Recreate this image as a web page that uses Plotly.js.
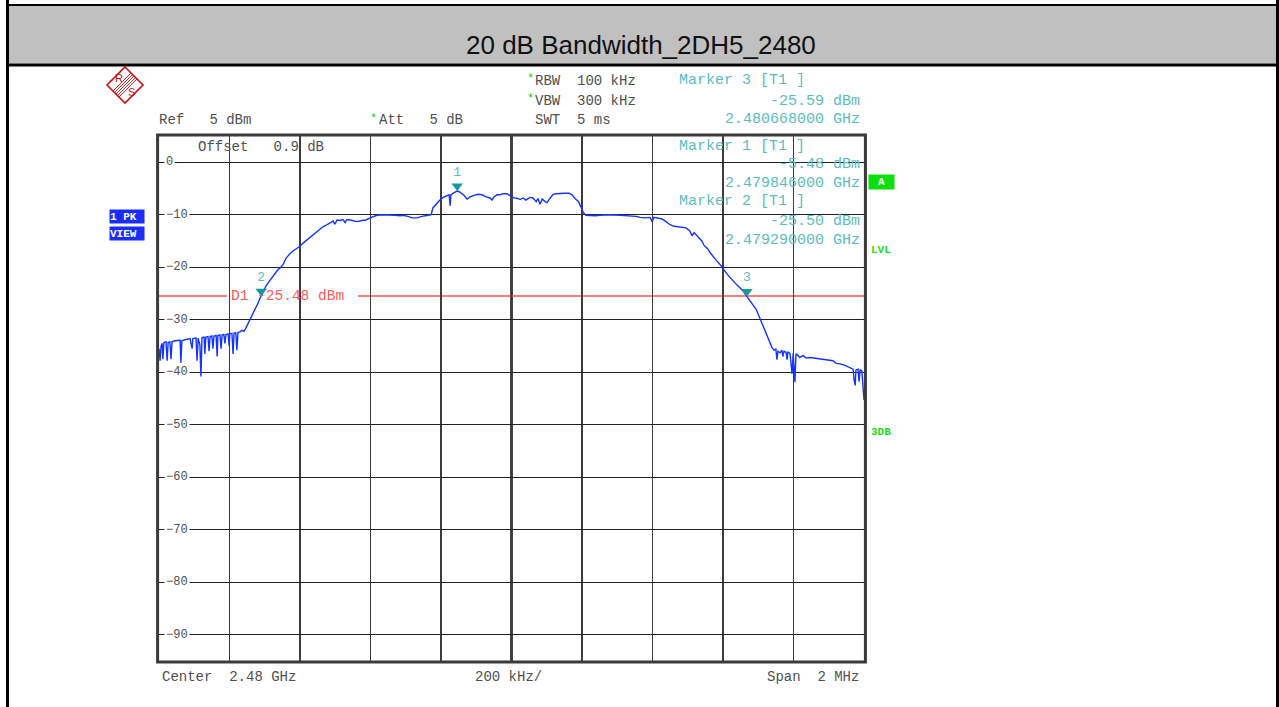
<!DOCTYPE html>
<html>
<head>
<meta charset="utf-8">
<script src="https://cdn.plot.ly/plotly-3.0.1.min.js"></script>
<style>html,body{margin:0;padding:0;background:#fff;}#chart{width:1279px;height:707px;}</style>
</head>
<body>
<div id="chart"></div>
<script>
// ---------- data ----------
const chartTitle = "20 dB Bandwidth_2DH5_2480";
const freqMHz = [
 2479.000,2479.003,2479.006,2479.009,2479.011,2479.014,2479.020,2479.023,2479.026,2479.031,
 2479.034,2479.037,2479.045,2479.054,2479.060,2479.062,2479.065,2479.074,2479.082,2479.088,
 2479.094,2479.096,2479.105,2479.108,2479.111,2479.116,2479.119,2479.122,2479.128,2479.130,
 2479.133,2479.139,2479.142,2479.145,2479.150,2479.153,2479.156,2479.162,2479.165,2479.167,
 2479.173,2479.176,2479.179,2479.184,2479.187,2479.190,2479.196,2479.199,2479.201,2479.207,
 2479.210,2479.213,2479.218,2479.221,2479.224,2479.230,2479.235,2479.241,2479.247,2479.252,
 2479.258,2479.264,2479.270,2479.275,2479.281,2479.287,2479.289,2479.295,2479.301,2479.306,
 2479.315,2479.323,2479.332,2479.338,2479.343,2479.352,2479.360,2479.366,2479.372,2479.380,
 2479.389,2479.400,2479.409,2479.420,2479.428,2479.437,2479.448,2479.457,2479.465,2479.474,
 2479.485,2479.494,2479.499,2479.505,2479.513,2479.522,2479.528,2479.533,2479.542,2479.553,
 2479.562,2479.576,2479.587,2479.599,2479.610,2479.618,2479.633,2479.644,2479.655,2479.670,
 2479.684,2479.692,2479.706,2479.718,2479.732,2479.746,2479.763,2479.772,2479.777,2479.786,
 2479.797,2479.806,2479.817,2479.823,2479.826,2479.828,2479.837,2479.846,2479.854,2479.865,
 2479.874,2479.882,2479.894,2479.905,2479.916,2479.928,2479.939,2479.945,2479.950,2479.959,
 2479.967,2479.976,2479.987,2479.996,2480.007,2480.018,2480.024,2480.033,2480.041,2480.052,
 2480.061,2480.070,2480.075,2480.081,2480.087,2480.095,2480.101,2480.109,2480.118,2480.126,
 2480.138,2480.152,2480.163,2480.172,2480.180,2480.189,2480.197,2480.203,2480.211,2480.223,
 2480.237,2480.251,2480.279,2480.308,2480.336,2480.353,2480.365,2480.379,2480.393,2480.399,
 2480.404,2480.416,2480.427,2480.438,2480.450,2480.461,2480.478,2480.495,2480.506,2480.512,
 2480.518,2480.529,2480.535,2480.540,2480.546,2480.552,2480.557,2480.563,2480.572,2480.580,
 2480.592,2480.597,2480.606,2480.614,2480.623,2480.631,2480.640,2480.648,2480.657,2480.668,
 2480.677,2480.685,2480.694,2480.699,2480.705,2480.711,2480.719,2480.728,2480.733,2480.739,
 2480.745,2480.750,2480.753,2480.756,2480.762,2480.767,2480.770,2480.773,2480.779,2480.782,
 2480.784,2480.790,2480.796,2480.799,2480.804,2480.807,2480.813,2480.818,2480.827,2480.836,
 2480.847,2480.858,2480.870,2480.881,2480.892,2480.904,2480.912,2480.921,2480.932,2480.946,
 2480.960,2480.969,2480.972,2480.975,2480.977,2480.983,2480.986,2480.989,2480.994,2480.997,
 2481.000
];
const levelDbm = [
 -35.5,-37.8,-35.0,-34.5,-37.5,-34.3,-34.2,-37.8,-34.3,-34.2,
 -37.5,-34.2,-34.0,-33.9,-33.9,-38.2,-34.0,-33.8,-33.7,-33.6,
 -35.5,-33.6,-33.5,-37.8,-33.5,-34.8,-40.8,-33.4,-33.3,-36.5,
 -33.3,-33.2,-36.0,-33.2,-33.1,-35.5,-33.1,-33.0,-37.0,-33.0,
 -32.9,-35.5,-32.9,-32.8,-34.5,-32.8,-32.7,-35.0,-32.6,-32.6,
 -36.5,-32.5,-32.5,-35.8,-32.4,-32.3,-32.0,-32.2,-31.5,-30.8,
 -30.0,-29.2,-28.6,-27.8,-26.8,-25.8,-25.5,-24.6,-23.9,-23.3,
 -22.5,-21.8,-21.0,-20.4,-20.2,-19.5,-18.3,-17.8,-17.4,-16.9,
 -16.5,-16.0,-15.4,-14.8,-14.4,-13.9,-13.4,-12.9,-12.3,-12.0,
 -11.5,-11.2,-11.8,-11.0,-11.1,-10.9,-11.5,-10.9,-11.0,-11.2,
 -11.3,-11.1,-11.0,-10.6,-10.3,-10.1,-10.0,-10.0,-10.0,-10.1,
 -10.2,-10.1,-10.3,-10.6,-10.6,-10.3,-10.1,-10.0,-8.7,-8.0,
 -7.2,-6.7,-6.3,-6.2,-8.3,-6.2,-5.8,-5.5,-5.7,-6.3,
 -7.0,-6.6,-6.3,-6.1,-6.2,-6.6,-6.8,-7.2,-6.6,-6.2,
 -6.2,-6.0,-6.0,-6.4,-6.8,-6.9,-7.1,-6.8,-7.2,-6.7,
 -6.8,-7.5,-6.9,-8.0,-7.0,-7.5,-7.7,-6.9,-6.1,-6.0,
 -5.9,-5.9,-5.9,-6.2,-6.9,-7.4,-8.5,-9.5,-10.1,-10.2,
 -10.2,-10.1,-10.0,-10.1,-10.2,-10.3,-10.5,-10.6,-10.5,-11.3,
 -10.5,-10.6,-10.8,-11.3,-11.9,-12.2,-12.3,-12.5,-13.1,-14.0,
 -13.4,-14.2,-14.8,-15.0,-15.8,-16.2,-16.5,-17.2,-18.0,-18.6,
 -19.5,-19.9,-20.8,-21.5,-22.2,-22.9,-23.4,-23.9,-24.5,-25.6,
 -26.5,-27.3,-28.0,-28.8,-29.8,-30.7,-31.9,-33.3,-34.3,-35.3,
 -35.8,-35.6,-37.6,-36.0,-36.3,-35.8,-37.0,-36.0,-36.2,-37.6,
 -36.1,-36.4,-40.3,-36.4,-41.9,-36.5,-36.8,-37.2,-36.8,-37.3,
 -37.2,-37.3,-37.5,-37.6,-37.7,-37.8,-37.8,-38.3,-38.4,-38.7,
 -39.1,-39.4,-41.5,-42.5,-39.6,-39.4,-41.8,-39.5,-39.8,-43.0,
 -45.3
];
const markerNames = ["1", "2", "3"];
const markerFreqMHz = [2479.846, 2479.290, 2480.668];
const markerLevel = [-5.48, -25.50, -25.59];
const displayLineDbm = -25.48;
const yTickVals = [0, -10, -20, -30, -40, -50, -60, -70, -80, -90];
const yTickText = ["0", "\u221210", "\u221220", "\u221230", "\u221240", "\u221250", "\u221260", "\u221270", "\u221280", "\u221290"];
const xRangeMHz = [2479, 2481];
const yRangeDbm = [-95, 5];

// ---------- layout helpers ----------
const W = 1279, H = 707, L = 159, R = 864, T = 136, B = 661;
const PX = x => (x - L) / (R - L);
const PY = y => (B - y) / (B - T);
const MONO = "Liberation Mono, Courier New, monospace";
const GRAY = "#505050";
const TEAL = "#5bbdbd";
const NB = s => s.replace(/ /g, "\u00a0");

function txt(x, y, text, o) {
  o = o || {};
  const a = {
    xref: "paper", yref: "paper", x: PX(x), y: PY(y), text: NB(text),
    showarrow: false, xanchor: o.xa || "left", yanchor: "middle",
    font: { family: o.family || MONO, size: o.size || 14, color: o.color || GRAY, weight: o.weight || "normal" },
    borderpad: o.pad || 0
  };
  if (o.bg) a.bgcolor = o.bg;
  if (o.w) { a.width = o.w; a.align = o.align || "left"; }
  if (o.h) a.height = o.h;
  return a;
}
function pline(x0, y0, x1, y1, color, width) {
  return { type: "line", xref: "paper", yref: "paper", x0: PX(x0), y0: PY(y0), x1: PX(x1), y1: PY(y1),
           line: { color: color, width: width }, layer: "above" };
}
function ppath(pts, color, width) {
  const d = pts.map((p, i) => (i ? "L" : "M") + PX(p[0]) + "," + PY(p[1])).join(" ") + " Z";
  return { type: "path", xref: "paper", yref: "paper", path: d, line: { color: color, width: width }, layer: "above" };
}

// ---------- traces ----------
const traces = [
  { x: freqMHz, y: levelDbm, type: "scatter", mode: "lines",
    line: { color: "#1434ff", width: 1.4 }, hoverinfo: "skip", showlegend: false },
  { x: markerFreqMHz, y: markerLevel.map(v => v + 0.95), type: "scatter", mode: "markers+text",
    text: markerNames, textposition: "top center", cliponaxis: false,
    marker: { symbol: "triangle-down", size: 10, color: "#149a9a" },
    textfont: { family: MONO, size: 13, color: TEAL }, hoverinfo: "skip", showlegend: false }
];

// ---------- annotations ----------
const anns = [];
anns.push({ xref: "paper", yref: "paper", x: PX(641), y: PY(45), text: chartTitle, showarrow: false,
            xanchor: "center", yanchor: "middle", font: { family: "Liberation Sans, Arial, sans-serif", size: 26, color: "#111" } });
// settings block
anns.push(txt(526, 79, "*", { color: "#22cc22", size: 12 }));
anns.push(txt(534, 81, "RBW  100 kHz"));
anns.push(txt(526, 99, "*", { color: "#22cc22", size: 12 }));
anns.push(txt(534, 101, "VBW  300 kHz"));
anns.push(txt(534, 120, "SWT  5 ms"));
anns.push(txt(158, 120, "Ref   5 dBm"));
anns.push(txt(369, 119, "*", { color: "#22cc22", size: 12 }));
anns.push(txt(378, 120, "Att   5 dB"));
anns.push(txt(197, 147, "Offset   0.9 dB"));
// marker info
const MK = { color: TEAL, size: 15 };
const MKR = { color: TEAL, size: 15, xa: "right" };
anns.push(txt(678, 81, "Marker 3 [T1 ]", MK));
anns.push(txt(861, 101, "-25.59 dBm", MKR));
anns.push(txt(861, 120, "2.480668000 GHz", MKR));
anns.push(txt(678, 146, "Marker 1 [T1 ]", MK));
anns.push(txt(861, 164, "-5.48 dBm", MKR));
anns.push(txt(861, 183, "2.479846000 GHz", MKR));
anns.push(txt(678, 202, "Marker 2 [T1 ]", MK));
anns.push(txt(861, 221, "-25.50 dBm", MKR));
anns.push(txt(861, 240, "2.479290000 GHz", MKR));
// display line label (line is broken around it)
anns.push({ xref: "paper", yref: "y", x: PX(230), y: displayLineDbm, text: NB("D1 -25.48 dBm"), showarrow: false,
            xanchor: "left", yanchor: "middle", borderpad: 0,
            font: { family: MONO, size: 14.5, color: "#ff5a5a" } });
// y tick labels inside the plot
yTickVals.forEach((v, i) => {
  anns.push({ xref: "paper", yref: "y", x: PX(164), y: v, text: yTickText[i], showarrow: false,
              xanchor: "left", yanchor: "middle", bgcolor: "#ffffff", borderpad: 1,
              font: { family: MONO, size: 12, color: GRAY } });
});
// bottom texts
anns.push(txt(161, 677, "Center  2.48 GHz"));
anns.push(txt(474, 677, "200 kHz/"));
anns.push(txt(860, 677, "Span  2 MHz", { xa: "right" }));
// side indicators
anns.push(txt(109, 216, "1 PK", { bg: "#1a2cff", color: "#ffffff", size: 11, weight: "bold", w: 34, h: 13 }));
anns.push(txt(109, 233, "VIEW", { bg: "#1a2cff", color: "#ffffff", size: 11, weight: "bold", w: 34, h: 13 }));
anns.push(txt(868, 182, "A", { bg: "#0ce00c", color: "#ffffff", size: 11, weight: "bold", w: 25, h: 14, align: "center" }));
anns.push(txt(870, 250, "LVL", { color: "#22dd22", size: 11, weight: "bold" }));
anns.push(txt(870, 432, "3DB", { color: "#22dd22", size: 11, weight: "bold" }));
// logo letters
anns.push(txt(119, 78, "R", { family: "Liberation Sans, Arial, sans-serif", size: 11, color: "#cc1010", xa: "center" }));
anns.push(txt(131, 92, "S", { family: "Liberation Sans, Arial, sans-serif", size: 11, color: "#cc1010", xa: "center" }));

// ---------- shapes ----------
const shapes = [];
shapes.push({ type: "rect", xref: "paper", yref: "paper", x0: PX(9), x1: PX(1276), y0: PY(63.5), y1: PY(6),
              fillcolor: "#c0c0c0", line: { width: 0 }, layer: "below" });
shapes.push(pline(6, 5, 1279, 5, "#000", 2));
shapes.push(pline(6, 65, 1279, 65, "#000", 3));
shapes.push(pline(7.5, 0, 7.5, 707, "#000", 3));
shapes.push(pline(1277.5, 0, 1277.5, 707, "#000", 3));
// plot frame
shapes.push({ type: "rect", xref: "paper", yref: "paper", x0: -0.002, x1: 1.002, y0: -0.002, y1: 1.002,
              line: { color: "#3a3a3a", width: 3 }, layer: "above" });
// centre line
shapes.push({ type: "line", xref: "x", yref: "paper", x0: 2480, x1: 2480, y0: 0, y1: 1,
              line: { color: "#444", width: 3 }, layer: "below" });
// display line D1, broken around its label
shapes.push({ type: "line", xref: "paper", yref: "y", x0: 0, x1: PX(227), y0: displayLineDbm, y1: displayLineDbm,
              line: { color: "#ff5050", width: 1.5 }, layer: "below" });
shapes.push({ type: "line", xref: "paper", yref: "y", x0: PX(358), x1: 1, y0: displayLineDbm, y1: displayLineDbm,
              line: { color: "#ff5050", width: 1.5 }, layer: "below" });
shapes.push({ type: "rect", xref: "paper", yref: "y", x0: PX(227), x1: PX(358), y0: displayLineDbm - 0.6, y1: displayLineDbm + 0.6,
              fillcolor: "#ffffff", line: { width: 0 }, layer: "below" });
// R&S logo
shapes.push(ppath([[125, 67], [143, 85], [125, 103], [107, 85]], "#cc1010", 1.6));
[-3, -1.5, 0, 1.5, 3].forEach(k => shapes.push(pline(134 + k, 76 + k, 116 + k, 94 + k, "#cc1010", 0.9)));

const layout = {
  width: W, height: H,
  margin: { l: L, r: W - R, t: T, b: H - B, pad: 0 },
  paper_bgcolor: "#ffffff", plot_bgcolor: "#ffffff",
  showlegend: false,
  xaxis: { range: xRangeMHz, tick0: 2479, dtick: 0.2, showticklabels: false, ticks: "",
           showgrid: true, gridcolor: "#3c3c3c", gridwidth: 1.5, zeroline: false, showline: false, fixedrange: true },
  yaxis: { range: yRangeDbm, tickvals: yTickVals, showticklabels: false, ticks: "",
           showgrid: true, gridcolor: "#222", gridwidth: 1.2, zeroline: false, showline: false, fixedrange: true },
  annotations: anns,
  shapes: shapes
};

Plotly.newPlot("chart", traces, layout, { staticPlot: true, displayModeBar: false });
</script>
</body>
</html>
